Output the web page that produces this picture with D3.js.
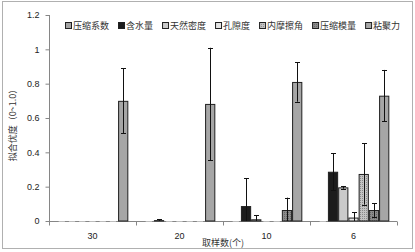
<!DOCTYPE html>
<meta charset="utf-8" />
<title>拟合优度</title>
<style>
  body { margin: 0; background: #fff; }
  svg { display: block; }
  .axis path, .axis line { stroke: #868686; }
  .ytick text { font-family: "Liberation Sans", sans-serif; font-size: 9px; fill: #222; }
  .cjk { font-family: "Noto Sans CJK SC", sans-serif; font-size: 9px; fill: #333; }
  .num { font-family: "Liberation Sans", sans-serif; font-size: 9px; fill: #222; }
</style>
<svg width="415" height="252"></svg>
<script src="https://d3js.org/d3.v7.min.js"></script>
<script>
const categories = ["30", "20", "10", "6"];
const series = ["压缩系数", "含水量", "天然密度", "孔隙度", "内摩擦角", "压缩模量", "粘聚力"];

// mean values per series, one per category
const yasuoxishu = [0, 0, 0, 0];
const hanshuiliang = [0, 0.005, 0.087, 0.287];
const tianranmidu = [0, 0, 0.01, 0.196];
const kongxidu = [0, 0, 0, 0.02];
const neimocajiao = [0, 0, 0, 0.274];
const yasuomoliang = [0, 0, 0.064, 0.064];
const nianjuli = [0.70, 0.682, 0.81, 0.73];

// error bar half widths
const errYasuoxishu = [0, 0, 0, 0];
const errHanshuiliang = [0, 0.005, 0.163, 0.108];
const errTianranmidu = [0, 0, 0.025, 0.008];
const errKongxidu = [0, 0, 0, 0.03];
const errNeimocajiao = [0, 0, 0, 0.178];
const errYasuomoliang = [0, 0, 0.072, 0.04];
const errNianjuli = [0.19, 0.327, 0.115, 0.15];

const yTicks = [0, 0.2, 0.4, 0.6, 0.8, 1, 1.2];

const values = [yasuoxishu, hanshuiliang, tianranmidu, kongxidu, neimocajiao, yasuomoliang, nianjuli];
const errors = [errYasuoxishu, errHanshuiliang, errTianranmidu, errKongxidu, errNeimocajiao, errYasuomoliang, errNianjuli];
const fills = ["#a3a3a3", "#1c1c1c", "#cacaca", "#e4e4e4", "url(#grid)", "url(#dots)", "#a6a6a6"];

const svg = d3.select("svg");
const defs = svg.append("defs");

const grid = defs.append("pattern").attr("id", "grid")
  .attr("width", 2).attr("height", 2).attr("patternUnits", "userSpaceOnUse");
grid.append("rect").attr("width", 2).attr("height", 2).attr("fill", "#c4c4c4");
grid.append("rect").attr("width", 1).attr("height", 1).attr("fill", "#8a8a8a");

const dots = defs.append("pattern").attr("id", "dots")
  .attr("width", 2).attr("height", 2).attr("patternUnits", "userSpaceOnUse");
dots.append("rect").attr("width", 2).attr("height", 2).attr("fill", "#8c8c8c");
dots.append("rect").attr("width", 1).attr("height", 1).attr("fill", "#666");

// chart frame
svg.append("rect")
  .attr("x", 2.5).attr("y", 1.5).attr("width", 410).attr("height", 247)
  .attr("fill", "#fff").attr("stroke", "#b0b0b0");

const plotL = 49, plotR = 397, plotT = 15, plotB = 221;

const x = d3.scaleBand().domain(categories).range([plotL, plotR]);
const xs = d3.scaleBand().domain(series).range([0, x.bandwidth()]).paddingOuter(0.75);
const y = d3.scaleLinear().domain([0, 1.2]).range([plotB, plotT]);

// y axis
const yAxis = svg.append("g").attr("class", "axis ytick")
  .attr("transform", `translate(${plotL + 0.5},0)`)
  .call(d3.axisLeft(y).tickValues(yTicks).tickSize(4).tickPadding(6).tickFormat(d => String(d)));
yAxis.select(".domain").attr("d", `M0,${plotT}V${plotB}`);

// x axis line and boundary ticks
const xg = svg.append("g").attr("class", "axis");
xg.append("line")
  .attr("x1", plotL).attr("x2", plotR)
  .attr("y1", plotB + 0.5).attr("y2", plotB + 0.5);
const bounds = categories.map(c => x(c)).concat([x(categories[categories.length - 1]) + x.bandwidth()]);
xg.selectAll(".bt").data(bounds).enter().append("line")
  .attr("x1", d => Math.round(d) + 0.5).attr("x2", d => Math.round(d) + 0.5)
  .attr("y1", plotB + 0.5).attr("y2", plotB + 4.5);

svg.append("g").attr("transform", `translate(0,${plotB})`)
  .call(d3.axisBottom(x).tickSize(0).tickPadding(12))
  .call(g => g.select(".domain").remove())
  .selectAll("text").attr("class", "num");

// bars
const flat = [];
series.forEach((s, i) => {
  categories.forEach((c, j) => {
    flat.push({ s, c, i, v: values[i][j], e: errors[i][j] });
  });
});

const barG = svg.append("g");
const nonZero = flat.filter(d => d.v > 0);
barG.selectAll("rect").data(nonZero).enter().append("rect")
  .attr("x", d => x(d.c) + xs(d.s) + 0.5)
  .attr("y", d => y(d.v) + 0.5)
  .attr("width", xs.bandwidth() - 1)
  .attr("height", d => Math.max(0, y(0) - y(d.v) - 0.5))
  .attr("fill", d => fills[d.i])
  .attr("stroke", "#202020")
  .attr("stroke-width", 1);

// zero-height bars show as faint outlines along the axis
barG.selectAll(".zero").data(flat.filter(d => d.v === 0)).enter().append("line")
  .attr("x1", d => x(d.c) + xs(d.s) + 2)
  .attr("x2", d => x(d.c) + xs(d.s) + xs.bandwidth() - 2)
  .attr("y1", plotB + 0.5).attr("y2", plotB + 0.5)
  .attr("stroke", "#bdbdbd").attr("stroke-width", 1);

// error bars
const errG = svg.append("g").attr("stroke", "#111").attr("stroke-width", 1);
const withErr = flat.filter(d => d.e > 0);
const cx = d => Math.round(x(d.c) + xs(d.s) + xs.bandwidth() / 2) + 0.5;
errG.selectAll(".ev").data(withErr).enter().append("line")
  .attr("x1", cx).attr("x2", cx)
  .attr("y1", d => y(d.v + d.e)).attr("y2", d => y(Math.max(0, d.v - d.e)));
errG.selectAll(".et").data(withErr).enter().append("line")
  .attr("x1", d => cx(d) - 2.5).attr("x2", d => cx(d) + 2.5)
  .attr("y1", d => Math.round(y(d.v + d.e)) + 0.5).attr("y2", d => Math.round(y(d.v + d.e)) + 0.5);
errG.selectAll(".eb").data(withErr.filter(d => d.v - d.e > 0)).enter().append("line")
  .attr("x1", d => cx(d) - 2.5).attr("x2", d => cx(d) + 2.5)
  .attr("y1", d => Math.round(y(d.v - d.e)) + 0.5).attr("y2", d => Math.round(y(d.v - d.e)) + 0.5);

// legend
const legend = svg.append("g").attr("transform", "translate(65,26)");
let lx = 0;
series.forEach((s, i) => {
  const g = legend.append("g").attr("transform", `translate(${lx},0)`);
  g.append("rect").attr("x", 0.5).attr("y", -3.5).attr("width", 6).attr("height", 6)
    .attr("fill", fills[i]).attr("stroke", "#202020");
  const t = g.append("text").attr("class", "cjk").attr("x", 8).attr("y", 3.2).text(s);
  lx += 8 + t.node().getComputedTextLength() + 9;
});

// axis titles
svg.append("text").attr("class", "cjk")
  .attr("x", (plotL + plotR) / 2).attr("y", 246)
  .attr("text-anchor", "middle").text("取样数(个)");

svg.append("text").attr("class", "cjk")
  .attr("transform", "translate(16,123) rotate(-90)")
  .attr("text-anchor", "middle").text("拟合优度（0~1.0）");
</script>
